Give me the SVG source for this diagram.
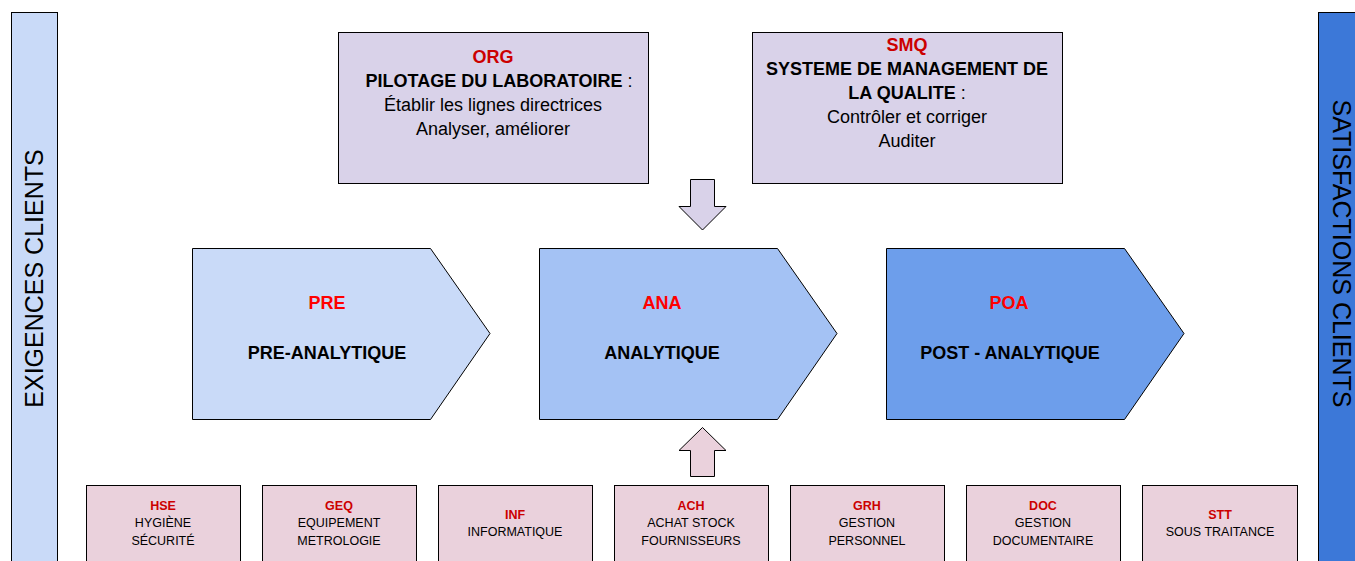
<svg xmlns="http://www.w3.org/2000/svg" width="1355" height="561" viewBox="0 0 1355 561">
<style>
text{font-family:"Liberation Sans",Arial,sans-serif;text-anchor:middle;fill:#000}
.b{font-weight:bold}
.r{fill:#cc0000;font-weight:bold}
.rr{fill:#ff0000;font-weight:bold}
.box{stroke:#000;stroke-width:1}
.top{fill:#d9d2e9}
.bot{fill:#ead1dc}
.t16{font-size:18px}
.t12{font-size:12.5px}
.v{font-size:25px}
</style>
<rect width="1355" height="561" fill="#fff"/>
<g id="exigences"><rect class="box" x="11.5" y="12.5" width="46" height="560" fill="#c9daf8"/><text class="v" transform="translate(43,278.5) rotate(-90)">EXIGENCES CLIENTS</text></g>
<g id="satisfactions"><rect class="box" x="1318.5" y="12.5" width="50" height="560" fill="#3c78d8"/><text class="v" transform="translate(1333,253.5) rotate(90)">SATISFACTIONS CLIENTS</text></g>
<g id="org"><rect class="box top" x="338.5" y="32.5" width="310" height="151"/>
<text class="r t16" x="493" y="62.5">ORG</text>
<text class="t16" x="499" y="86.5"><tspan class="b">PILOTAGE DU LABORATOIRE</tspan> :</text>
<text class="t16" x="493" y="110.5">Établir les lignes directrices</text>
<text class="t16" x="493" y="134.5">Analyser, améliorer</text></g>
<g id="smq"><rect class="box top" x="752.5" y="32.5" width="310" height="151"/>
<text class="r t16" x="907" y="50.5">SMQ</text>
<text class="b t16" x="907" y="74.5">SYSTEME DE MANAGEMENT DE</text>
<text class="t16" x="907" y="98.5"><tspan class="b">LA QUALITE</tspan> :</text>
<text class="t16" x="907" y="122.5">Contrôler et corriger</text>
<text class="t16" x="907" y="146.5">Auditer</text></g>
<g id="pre"><path class="box" d="M192.5 248.5H430.5L490 333.5L430.5 419.5H192.5Z" fill="#c9daf8"/>
<text class="rr t16" x="327" y="308.5">PRE</text><text class="b t16" x="327" y="358.5">PRE-ANALYTIQUE</text></g>
<g id="ana"><path class="box" d="M539.5 248.5H777.5L837 333.5L777.5 419.5H539.5Z" fill="#a4c2f4"/>
<text class="rr t16" x="662" y="308.5">ANA</text><text class="b t16" x="662" y="358.5">ANALYTIQUE</text></g>
<g id="poa"><path class="box" d="M886.5 248.5H1124.5L1184 333.5L1124.5 419.5H886.5Z" fill="#6d9eeb"/>
<text class="rr t16" x="1009" y="308.5">POA</text><text class="b t16" x="1010" y="358.5">POST - ANALYTIQUE</text></g>
<g id="connectors">
<path class="box" d="M690.5 179.5H714.5V206.5H726L702.5 230L679 206.5H690.5Z" fill="#d9d2e9"/>
<path class="box" d="M690.5 476.5H714.5V450.5H726L702.5 427.5L679 450.5H690.5Z" fill="#ead1dc"/>
</g>
<g id="hse"><rect class="box bot" x="86.5" y="485.5" width="154" height="90"/><text class="r t12" x="163" y="510">HSE</text><text class="t12" x="163" y="527">HYGIÈNE</text><text class="t12" x="163" y="545">SÉCURITÉ</text></g>
<g id="geq"><rect class="box bot" x="262.5" y="485.5" width="154" height="90"/><text class="r t12" x="339" y="510">GEQ</text><text class="t12" x="339" y="527">EQUIPEMENT</text><text class="t12" x="339" y="545">METROLOGIE</text></g>
<g id="inf"><rect class="box bot" x="438.5" y="485.5" width="154" height="90"/><text class="r t12" x="515" y="519">INF</text><text class="t12" x="515" y="536">INFORMATIQUE</text></g>
<g id="ach"><rect class="box bot" x="614.5" y="485.5" width="154" height="90"/><text class="r t12" x="691" y="510">ACH</text><text class="t12" x="691" y="527">ACHAT STOCK</text><text class="t12" x="691" y="545">FOURNISSEURS</text></g>
<g id="grh"><rect class="box bot" x="790.5" y="485.5" width="154" height="90"/><text class="r t12" x="867" y="510">GRH</text><text class="t12" x="867" y="527">GESTION</text><text class="t12" x="867" y="545">PERSONNEL</text></g>
<g id="doc"><rect class="box bot" x="966.5" y="485.5" width="154" height="90"/><text class="r t12" x="1043" y="510">DOC</text><text class="t12" x="1043" y="527">GESTION</text><text class="t12" x="1043" y="545">DOCUMENTAIRE</text></g>
<g id="stt"><rect class="box bot" x="1142.5" y="485.5" width="155" height="90"/><text class="r t12" x="1220" y="519">STT</text><text class="t12" x="1220" y="536">SOUS TRAITANCE</text></g>
</svg>
